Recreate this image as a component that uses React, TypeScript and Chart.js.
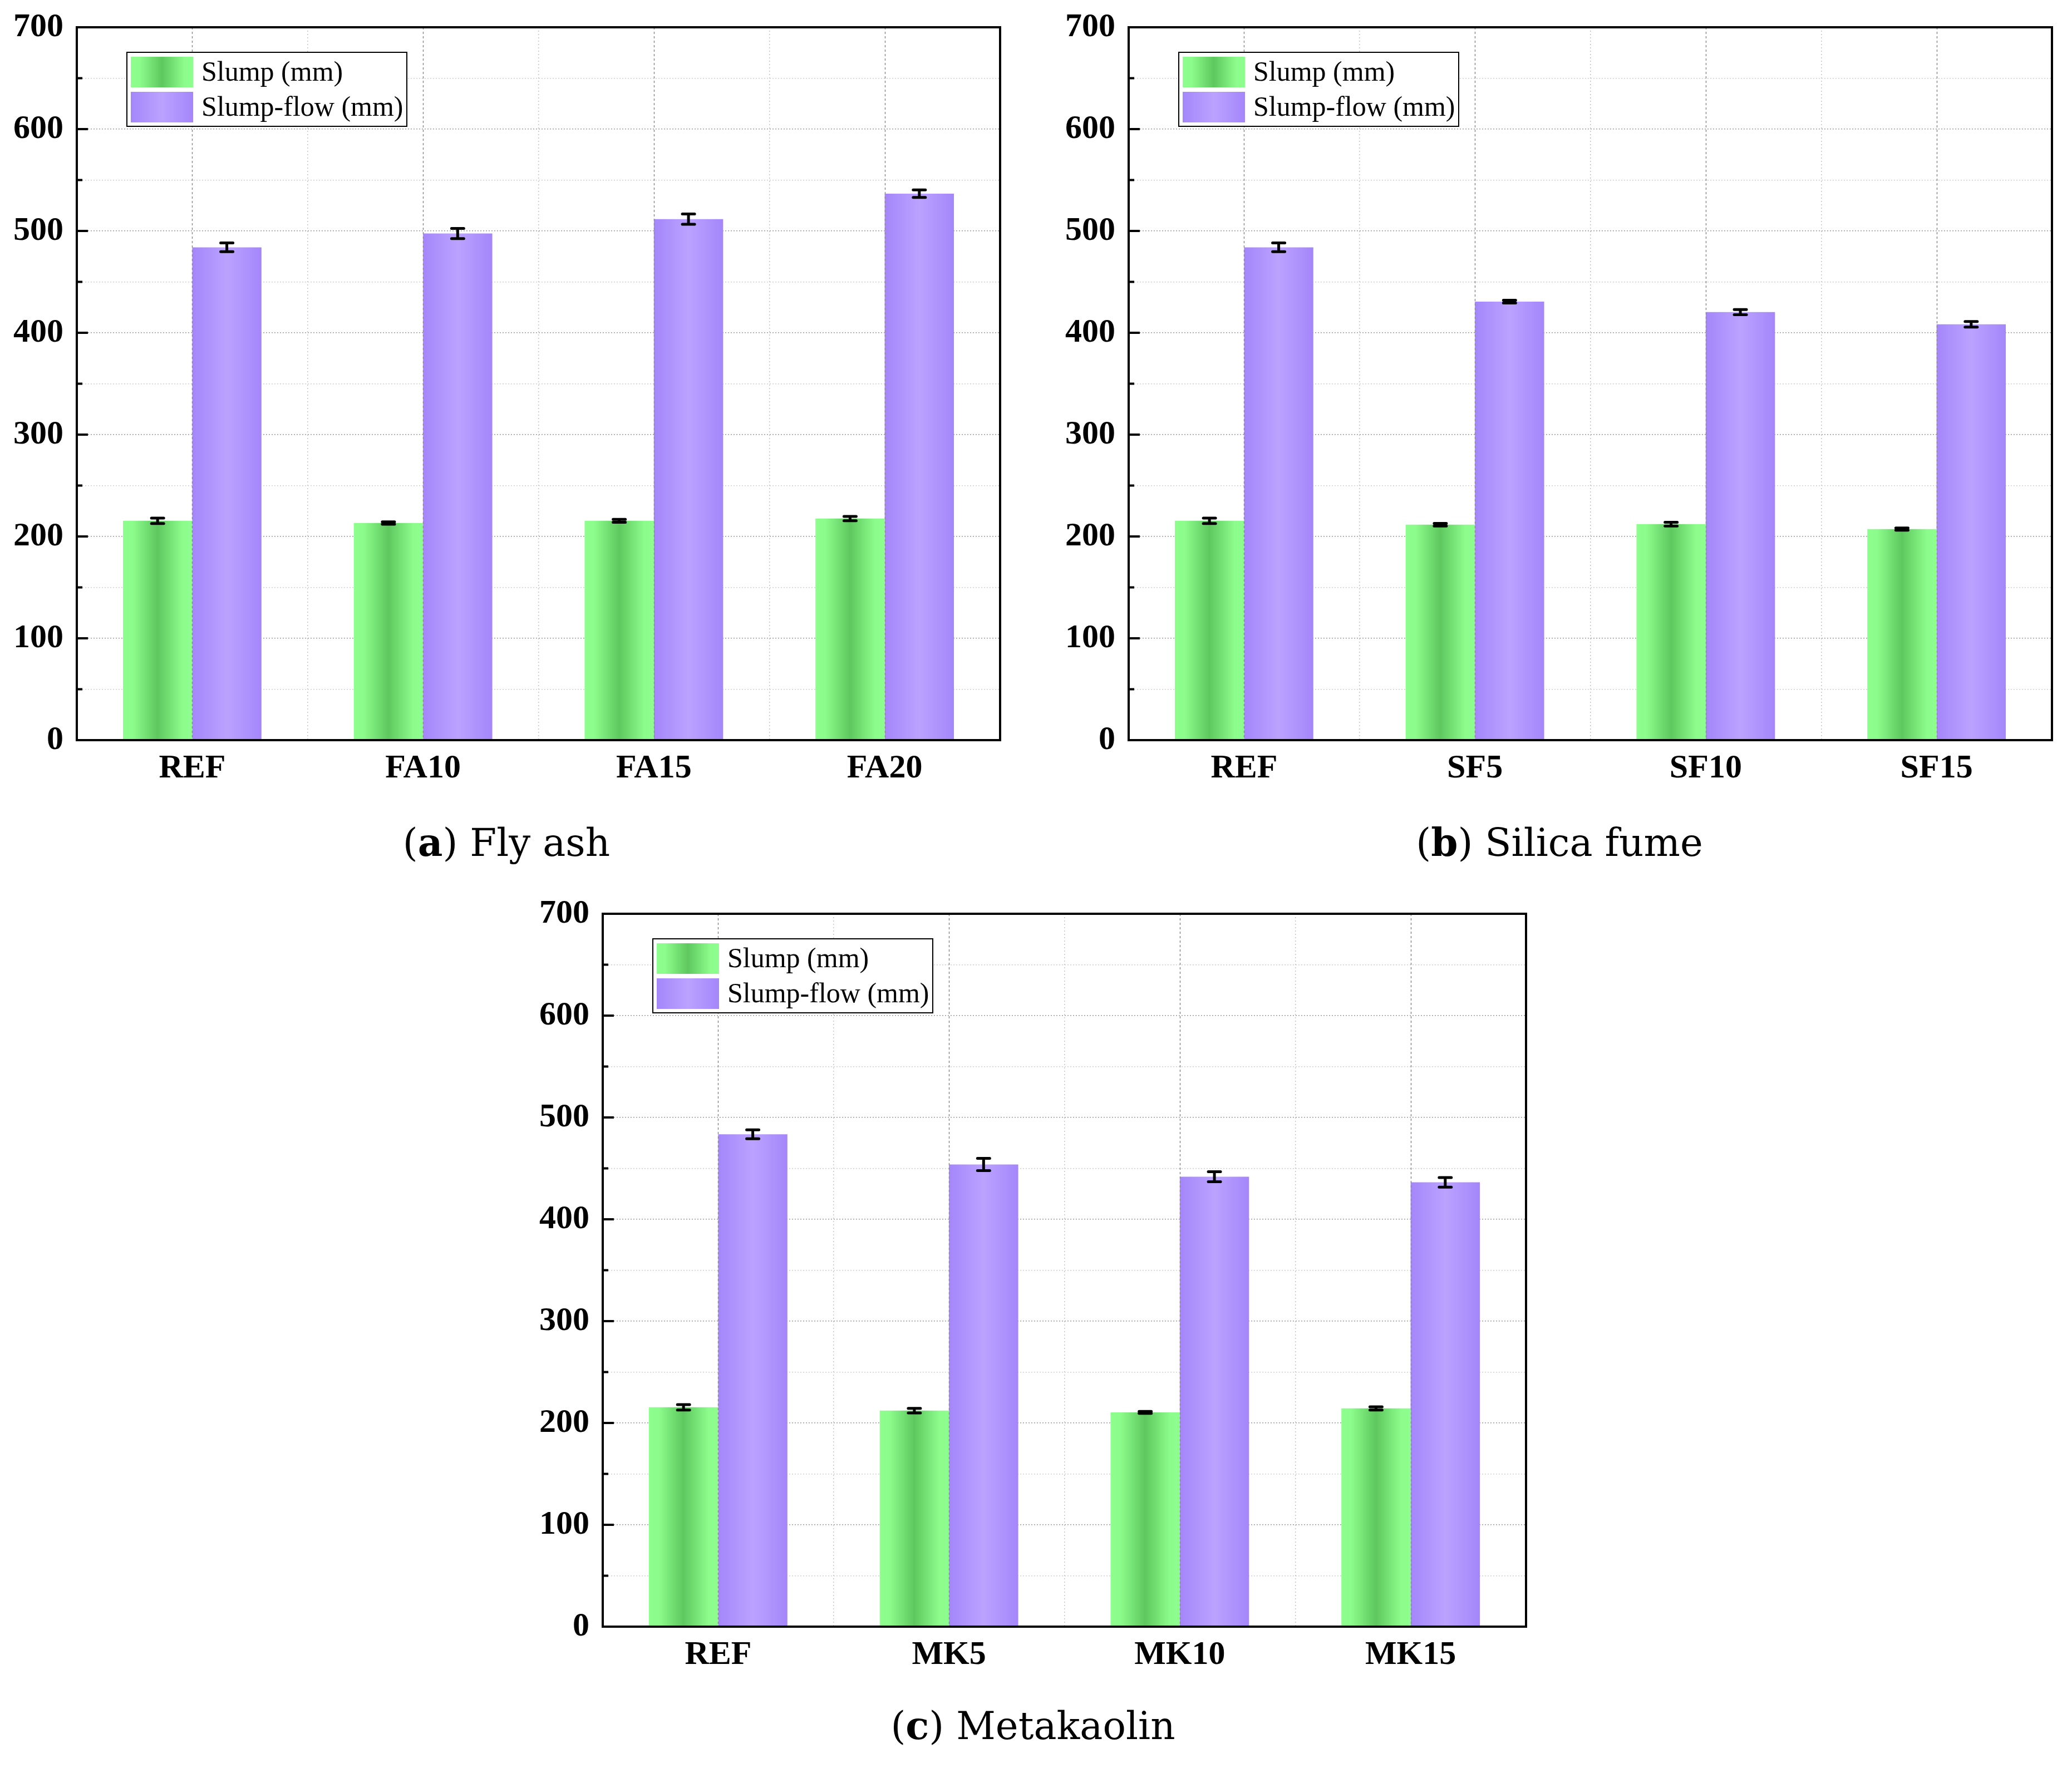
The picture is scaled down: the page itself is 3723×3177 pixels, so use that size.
import React, { useEffect, useRef } from 'react';
import { Chart, registerables } from 'chart.js';

Chart.register(...registerables);

// ---------- data ----------
const seriesLabels = ['Slump (mm)', 'Slump-flow (mm)'];

const faCategories = ['REF', 'FA10', 'FA15', 'FA20'];
const faSlump = [215.4, 213.2, 215.4, 217.6];
const faSlumpErr = [2.7, 1.2, 1.4, 2.1];
const faFlow = [483.9, 497.5, 511.6, 536.6];
const faFlowErr = [4.3, 5.0, 5.1, 3.7];

const sfCategories = ['REF', 'SF5', 'SF10', 'SF15'];
const sfSlump = [215.4, 211.6, 212.1, 207.2];
const sfSlumpErr = [2.7, 1.3, 1.8, 1.1];
const sfFlow = [483.9, 430.6, 420.3, 408.3];
const sfFlowErr = [4.3, 1.4, 2.5, 2.7];

const mkCategories = ['REF', 'MK5', 'MK10', 'MK15'];
const mkSlump = [215.4, 212.1, 210.4, 214.3];
const mkSlumpErr = [2.7, 2.2, 1.0, 1.6];
const mkFlow = [483.5, 453.8, 441.8, 436.3];
const mkFlowErr = [4.4, 6.0, 4.9, 4.7];

const yMin = 0;
const yMax = 700;
const yStep = 50;
const yLabelStep = 100;

// ---------- styling ----------
const TICK_FONT = "'Liberation Serif', 'Times New Roman', serif";
const CAPTION_FONT = "'DejaVu Serif', 'Liberation Serif', serif";

function makeGradient(ctx: CanvasRenderingContext2D, x0: number, x1: number, series: number) {
  const g = ctx.createLinearGradient(x0, 0, x1, 0);
  if (series === 0) {
    g.addColorStop(0, '#8dff8d');
    g.addColorStop(0.14, '#8cfc8c');
    g.addColorStop(0.5, '#5ec85e');
    g.addColorStop(0.86, '#8cfc8c');
    g.addColorStop(1, '#8dff8d');
  } else {
    g.addColorStop(0, '#a486fa');
    g.addColorStop(0.5, '#bba2ff');
    g.addColorStop(1, '#a486fa');
  }
  return g;
}

const decorPlugin = {
  id: 'panelDecor',
  beforeDatasetDraw(chart: any, args: any) {
    const ctx = chart.ctx;
    args.meta.data.forEach((el: any) => {
      const p = el.getProps(['x', 'width'], true);
      el.options = { ...el.options, backgroundColor: makeGradient(ctx, p.x - p.width / 2, p.x + p.width / 2, args.index) };
    });
  },
  afterDatasetsDraw(chart: any) {
    const { ctx, chartArea, scales } = chart;
    const x = scales.x;
    ctx.save();
    ctx.strokeStyle = '#8c8c8c';
    ctx.lineWidth = 1.5;
    ctx.setLineDash([4, 4]);
    for (let i = 0; i < chart.data.labels.length; i++) {
      const px = Math.round(x.getPixelForValue(i)) + 0.5;
      ctx.beginPath();
      ctx.moveTo(px, chartArea.top);
      ctx.lineTo(px, chartArea.bottom);
      ctx.stroke();
    }
    ctx.restore();
  },
  afterDraw(chart: any) {
    const { ctx, chartArea, scales } = chart;
    const y = scales.y;
    // error bars
    ctx.save();
    ctx.strokeStyle = '#000';
    ctx.lineWidth = 5;
    ctx.lineCap = 'round';
    chart.data.datasets.forEach((ds: any, di: number) => {
      const meta = chart.getDatasetMeta(di);
      meta.data.forEach((el: any, i: number) => {
        const v = ds.data[i];
        const e = ds.errors[i];
        const cx = el.x;
        const yt = y.getPixelForValue(v + e);
        const yb = y.getPixelForValue(v - e);
        const hw = 11;
        ctx.beginPath();
        ctx.moveTo(cx, yt);
        ctx.lineTo(cx, yb);
        ctx.moveTo(cx - hw, yt);
        ctx.lineTo(cx + hw, yt);
        ctx.moveTo(cx - hw, yb);
        ctx.lineTo(cx + hw, yb);
        ctx.stroke();
      });
    });
    ctx.restore();

    // inward ticks
    ctx.save();
    ctx.strokeStyle = '#000';
    ctx.lineWidth = 4;
    y.ticks.forEach((t: any) => {
      const py = y.getPixelForValue(t.value);
      const len = t.value % yLabelStep === 0 ? 20 : 10;
      ctx.beginPath();
      ctx.moveTo(chartArea.left, py);
      ctx.lineTo(chartArea.left + len, py);
      ctx.stroke();
    });
    ctx.restore();

    // frame
    ctx.save();
    ctx.strokeStyle = '#000';
    ctx.lineWidth = 4;
    ctx.strokeRect(chartArea.left, chartArea.top, chartArea.right - chartArea.left, chartArea.bottom - chartArea.top);
    ctx.restore();

    // legend
    const lx = chartArea.left + 90;
    const ly = chartArea.top + 45;
    const lw = 503;
    const lh = 133;
    ctx.save();
    ctx.fillStyle = '#fff';
    ctx.fillRect(lx, ly, lw, lh);
    ctx.strokeStyle = '#000';
    ctx.lineWidth = 2;
    ctx.strokeRect(lx, ly, lw, lh);
    chart.data.datasets.forEach((ds: any, di: number) => {
      const sx = lx + 7;
      const sy = ly + 8 + di * 63;
      const sw = 112;
      const sh = 55;
      ctx.fillStyle = makeGradient(ctx, sx, sx + sw, di);
      ctx.fillRect(sx, sy, sw, sh);
      ctx.fillStyle = '#000';
      ctx.font = `50px ${TICK_FONT}`;
      ctx.textBaseline = 'middle';
      ctx.textAlign = 'left';
      ctx.fillText(ds.label, lx + 134, sy + sh / 2 + 2);
    });
    ctx.restore();
  },
};

type PanelProps = {
  categories: string[];
  slump: number[];
  slumpErr: number[];
  flow: number[];
  flowErr: number[];
  left: number;
  top: number;
  width: number;
  height: number;
};

function Panel({ categories, slump, slumpErr, flow, flowErr, left, top, width, height }: PanelProps) {
  const ref = useRef<HTMLCanvasElement | null>(null);
  useEffect(() => {
    if (!ref.current) return;
    const chart = new Chart(ref.current, {
      type: 'bar',
      data: {
        labels: categories,
        datasets: [
          { label: seriesLabels[0], data: slump, errors: slumpErr, backgroundColor: '#8dff8d', borderWidth: 0 } as any,
          { label: seriesLabels[1], data: flow, errors: flowErr, backgroundColor: '#a486fa', borderWidth: 0 } as any,
        ],
      },
      options: {
        responsive: false,
        animation: false,
        devicePixelRatio: 1,
        categoryPercentage: 0.6,
        barPercentage: 1.0,
        layout: { padding: { left: 0, top: 0, right: 30, bottom: 0 } },
        plugins: { legend: { display: false }, tooltip: { enabled: false } },
        scales: {
          x: {
            type: 'category',
            offset: true,
            z: 1,
            grid: { offset: true, color: '#c4c4c4', lineWidth: 1.5, drawTicks: false },
            border: { display: false, dash: [2, 4] },
            ticks: { color: '#000', padding: 15, font: { family: TICK_FONT, weight: 'bold', size: 60 } },
            afterFit: (s: any) => { s.height = 100; },
          },
          y: {
            min: yMin,
            max: yMax,
            z: 1,
            grid: {
              color: (c: any) => (c.tick && c.tick.value % yLabelStep === 0 ? '#9a9a9a' : '#cfcfcf'),
              lineWidth: 1.5,
              drawTicks: false,
            },
            border: { display: false, dash: [2, 3] },
            ticks: {
              stepSize: yStep,
              color: '#000',
              padding: 24,
              font: { family: TICK_FONT, weight: 'bold', size: 60 },
              callback: (v: any) => (Number(v) % yLabelStep === 0 ? String(v) : ''),
            },
            afterFit: (s: any) => { s.width = 130; },
          },
        },
      } as any,
      plugins: [decorPlugin as any],
    });
    return () => chart.destroy();
  }, []);
  return (
    <canvas
      ref={ref}
      width={width}
      height={height}
      style={{ position: 'absolute', left, top, width, height }}
    />
  );
}

function Caption({ letter, text, cx, top }: { letter: string; text: string; cx: number; top: number }) {
  return (
    <div
      style={{
        position: 'absolute',
        left: cx,
        top,
        transform: 'translateX(-50%)',
        fontFamily: CAPTION_FONT,
        fontSize: 69,
        lineHeight: '80px',
        whiteSpace: 'nowrap',
        color: '#000',
      }}
    >
      (<b>{letter}</b>) {text}
    </div>
  );
}

export default function App() {
  return (
    <div style={{ position: 'absolute', left: 0, top: 0, width: 3723, height: 3177, background: '#fff', overflow: 'hidden' }}>
      <Panel categories={faCategories} slump={faSlump} slumpErr={faSlumpErr} flow={faFlow} flowErr={faFlowErr}
        left={8} top={-11} width={1819} height={1441} />
      <Panel categories={sfCategories} slump={sfSlump} slumpErr={sfSlumpErr} flow={sfFlow} flowErr={sfFlowErr}
        left={1898} top={-11} width={1819} height={1441} />
      <Panel categories={mkCategories} slump={mkSlump} slumpErr={mkSlumpErr} flow={mkFlow} flowErr={mkFlowErr}
        left={953} top={1582} width={1819} height={1441} />
      <Caption letter="a" text="Fly ash" cx={910} top={1474} />
      <Caption letter="b" text="Silica fume" cx={2802} top={1474} />
      <Caption letter="c" text="Metakaolin" cx={1856} top={3061} />
    </div>
  );
}
